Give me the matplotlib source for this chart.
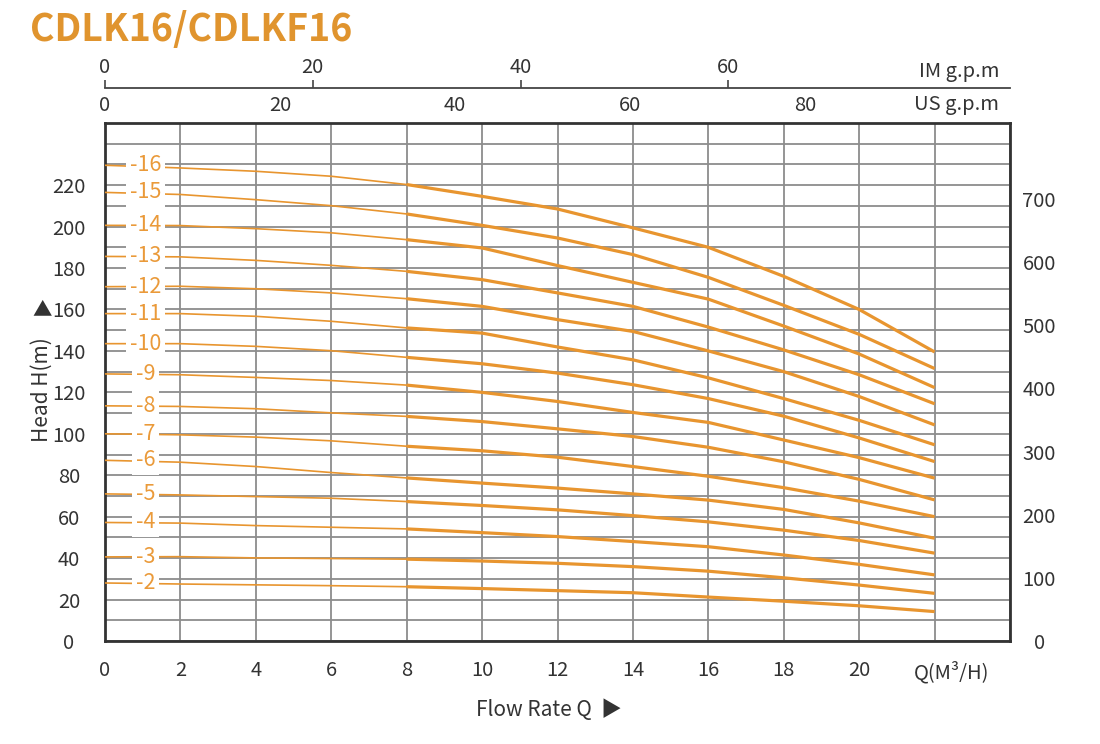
import matplotlib
matplotlib.use("Agg")
import matplotlib.pyplot as plt
import matplotlib.transforms as mtransforms

plt.rcParams['font.family'] = ['Noto Sans CJK SC', 'DejaVu Sans']

# flow rate points (m3/h)
q = [0, 2, 4, 6, 8, 10, 12, 14, 16, 18, 20, 22]

# head curves (m) per number of stages
stages = [16, 15, 14, 13, 12, 11, 10, 9, 8, 7, 6, 5, 4, 3, 2]
h16 = [229.6, 228.3, 226.7, 224.3, 220.3, 214.6, 208.5, 199.4, 190.0, 176.0, 160.0, 139.5]
h15 = [216.5, 215.5, 213.0, 210.1, 206.1, 200.6, 194.5, 186.5, 175.5, 162.0, 148.0, 131.5]
h14 = [200.6, 200.5, 199.0, 197.0, 193.7, 189.7, 181.2, 173.1, 165.0, 152.0, 138.5, 122.3]
h13 = [185.6, 185.4, 183.7, 181.3, 178.4, 174.4, 168.0, 161.5, 151.5, 140.5, 128.5, 114.5]
h12 = [171.0, 171.2, 170.0, 168.0, 165.2, 161.5, 155.1, 149.4, 140.0, 130.0, 118.0, 104.3]
h11 = [158.0, 158.0, 156.7, 154.3, 151.1, 148.6, 141.9, 135.7, 127.0, 117.0, 106.5, 94.7]
h10 = [143.5, 143.5, 142.2, 140.1, 136.9, 133.8, 129.3, 123.7, 117.0, 108.5, 98.0, 86.6]
h9 = [128.9, 128.5, 127.2, 125.7, 123.5, 120.0, 115.6, 110.3, 105.5, 97.0, 88.5, 78.6]
h8 = [113.5, 113.2, 112.1, 110.1, 108.4, 105.9, 102.4, 98.7, 93.5, 86.5, 78.0, 68.1]
h7 = [100.0, 99.5, 98.4, 96.6, 94.0, 91.8, 88.7, 84.2, 79.5, 74.0, 67.5, 60.0]
h6 = [87.2, 86.3, 84.2, 81.3, 78.7, 76.2, 73.8, 71.0, 68.0, 63.5, 57.0, 49.6]
h5 = [71.0, 70.5, 69.7, 68.9, 67.3, 65.4, 63.3, 60.5, 57.5, 53.5, 48.5, 42.4]
h4 = [57.2, 56.9, 55.7, 54.9, 54.1, 52.3, 50.4, 48.0, 45.5, 41.5, 37.0, 31.9]
h3 = [40.6, 40.7, 40.1, 39.8, 39.5, 38.6, 37.5, 35.9, 33.7, 30.5, 27.0, 23.0]
h2 = [28.0, 27.5, 27.1, 26.7, 26.2, 25.3, 24.3, 23.3, 21.2, 19.2, 17.0, 14.2]
heads = [h16, h15, h14, h13, h12, h11, h10, h9, h8, h7, h6, h5, h4, h3, h2]

x_ticks = [0, 2, 4, 6, 8, 10, 12, 14, 16, 18, 20, 22]
x_labels = ['0', '2', '4', '6', '8', '10', '12', '14', '16', '18', '20', 'Q(M³/H)']
h_ticks = [0, 20, 40, 60, 80, 100, 120, 140, 160, 180, 200, 220]
ft_ticks = [0, 100, 200, 300, 400, 500, 600, 700]
us_ticks = [0, 20, 40, 60, 80]
im_ticks = [0, 20, 40, 60]

US_PER_M3H = 4.31   # scale
IM_PER_M3H = 3.63
FT_PER_M = 3.2808

orange = '#E8952F'
dark = '#333333'

fig = plt.figure(figsize=(11, 7.44), dpi=100)
ax = fig.add_axes([105/1100, 103/744, 905/1100, 518/744])

ax.set_xlim(0, 24)
ax.set_ylim(0, 250)
ax.set_xticks(x_ticks)
ax.set_xticklabels(x_labels)
ax.set_yticks(h_ticks)
ax.set_xticks([24], minor=True)
ax.set_yticks([10, 30, 50, 70, 90, 110, 130, 150, 170, 190, 210, 230, 240], minor=True)
ax.grid(which='both', color='#8c8c8c', lw=1.3)
ax.set_axisbelow(True)

ax.tick_params(axis='both', which='both', length=0, labelsize=14.5, labelcolor=dark)
ax.tick_params(axis='x', pad=14)
ax.tick_params(axis='y', pad=26)
for lab in ax.get_yticklabels():
    lab.set_horizontalalignment('center')
# unit label sits a bit right of the last tick
last = ax.get_xticklabels()[-1]
last.set_transform(last.get_transform() + mtransforms.ScaledTranslation(17/100, 0, fig.dpi_scale_trans))
for sp in ax.spines.values():
    sp.set_color(dark)
    sp.set_linewidth(2)

for n, h in zip(stages, heads):
    ax.plot(q[:5], h[:5], color=orange, lw=1.2, zorder=3)
    ax.plot(q[4:], h[4:], color=orange, lw=2.3, zorder=3, solid_capstyle='butt')
    ax.text(1.08, h[0], '-%d' % n, color='#EA9A3A', fontsize=15.5, ha='center', va='center',
            zorder=5, bbox=dict(boxstyle='square,pad=0.18', facecolor='white', edgecolor='none'))

# right axis in feet
ax2 = ax.twinx()
ax2.set_ylim(0, 250 * FT_PER_M)
ax2.set_yticks(ft_ticks)
ax2.tick_params(length=0, labelsize=14.5, labelcolor=dark, pad=21)
for lab in ax2.get_yticklabels():
    lab.set_horizontalalignment('center')
for sp in ax2.spines.values():
    sp.set_visible(False)

# US gpm on top
us = ax.secondary_xaxis('top', functions=(lambda v: v * US_PER_M3H, lambda v: v / US_PER_M3H))
us.set_xticks(us_ticks)
us.tick_params(length=0, labelsize=14.5, labelcolor=dark, pad=5)
us.spines['top'].set_visible(False)

# IM gpm above it
im = ax.secondary_xaxis(1 + 35/518, functions=(lambda v: v * IM_PER_M3H, lambda v: v / IM_PER_M3H))
im.set_xticks(im_ticks)
im.tick_params(length=6, width=1.2, color='#444444', labelsize=14.5, labelcolor=dark, pad=1)
im.spines['top'].set_color('#444444')
im.spines['top'].set_linewidth(1.3)

ax.text(0.988, 1.035, 'US g.p.m', transform=ax.transAxes, ha='right', va='center',
        fontsize=14.5, color=dark)
ax.text(0.988, 1.1, 'IM g.p.m', transform=ax.transAxes, ha='right', va='center',
        fontsize=14.5, color=dark)

fig.text(30/1100, 1 - 30/744, 'CDLK16/CDLKF16', fontsize=27, fontweight='bold',
         color='#E0942E', ha='left', va='center')

fig.text(42/1100, 1 - 390/744, 'Head H(m)', rotation=90, fontsize=15, color=dark,
         ha='center', va='center')
fig.text(42/1100, 1 - 310/744, '▲', fontsize=14, color=dark, ha='center', va='center')
fig.text(534/1100, 1 - 710/744, 'Flow Rate Q', fontsize=15, color=dark,
         ha='center', va='center')
fig.text(611/1100, 1 - 710/744, '▶', fontsize=15, color=dark, ha='center', va='center')

fig.savefig('out.png', dpi=100)
